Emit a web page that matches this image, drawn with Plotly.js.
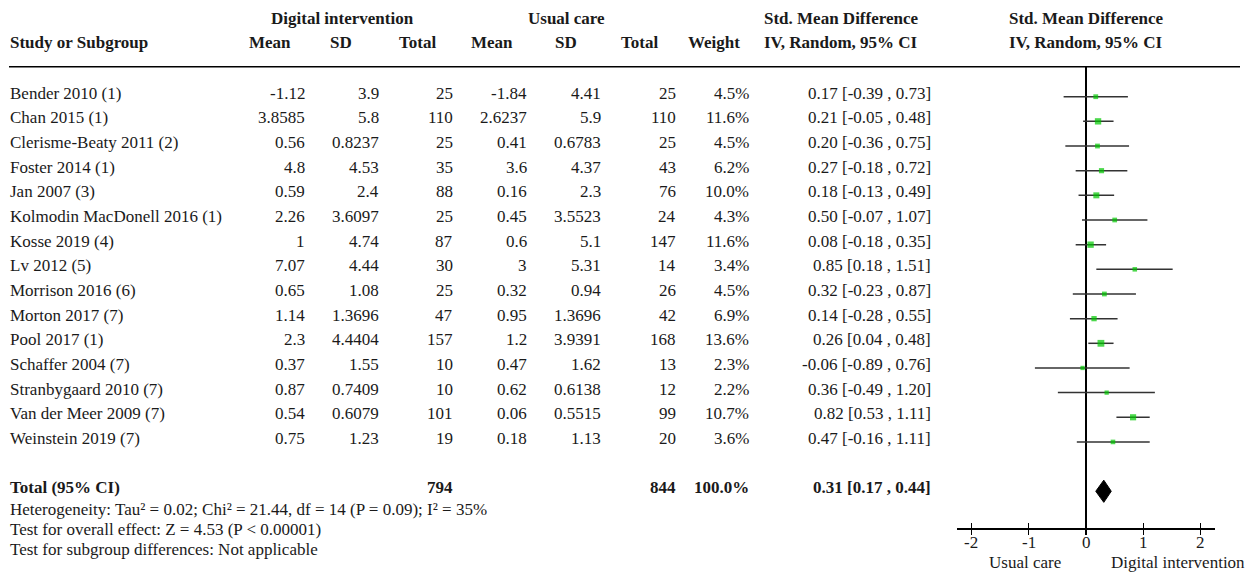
<!DOCTYPE html>
<html>
<head>
<meta charset="utf-8">
<script src="https://cdn.plot.ly/plotly-3.0.1.min.js"></script>
<style>html,body{margin:0;padding:0;background:#fff;}#chart{width:1254px;height:574px;}</style>
</head>
<body>
<div id="chart"></div>
<script>
// ---- data ----
const studies = ["Bender 2010 (1)", "Chan 2015 (1)", "Clerisme-Beaty 2011 (2)", "Foster 2014 (1)", "Jan 2007 (3)",
  "Kolmodin MacDonell 2016 (1)", "Kosse 2019 (4)", "Lv 2012 (5)", "Morrison 2016 (6)", "Morton 2017 (7)",
  "Pool 2017 (1)", "Schaffer 2004 (7)", "Stranbygaard 2010 (7)", "Van der Meer 2009 (7)", "Weinstein 2019 (7)"];
const digMean = [-1.12, 3.8585, 0.56, 4.8, 0.59, 2.26, 1, 7.07, 0.65, 1.14, 2.3, 0.37, 0.87, 0.54, 0.75];
const digSD = [3.9, 5.8, 0.8237, 4.53, 2.4, 3.6097, 4.74, 4.44, 1.08, 1.3696, 4.4404, 1.55, 0.7409, 0.6079, 1.23];
const digN = [25, 110, 25, 35, 88, 25, 87, 30, 25, 47, 157, 10, 10, 101, 19];
const ucMean = [-1.84, 2.6237, 0.41, 3.6, 0.16, 0.45, 0.6, 3, 0.32, 0.95, 1.2, 0.47, 0.62, 0.06, 0.18];
const ucSD = [4.41, 5.9, 0.6783, 4.37, 2.3, 3.5523, 5.1, 5.31, 0.94, 1.3696, 3.9391, 1.62, 0.6138, 0.5515, 1.13];
const ucN = [25, 110, 25, 43, 76, 24, 147, 14, 26, 42, 168, 13, 12, 99, 20];
const weight = [4.5, 11.6, 4.5, 6.2, 10.0, 4.3, 11.6, 3.4, 4.5, 6.9, 13.6, 2.3, 2.2, 10.7, 3.6];
const smd = [0.17, 0.21, 0.20, 0.27, 0.18, 0.50, 0.08, 0.85, 0.32, 0.14, 0.26, -0.06, 0.36, 0.82, 0.47];
const ciLo = [-0.39, -0.05, -0.36, -0.18, -0.13, -0.07, -0.18, 0.18, -0.23, -0.28, 0.04, -0.89, -0.49, 0.53, -0.16];
const ciHi = [0.73, 0.48, 0.75, 0.72, 0.49, 1.07, 0.35, 1.51, 0.87, 0.55, 0.48, 0.76, 1.20, 1.11, 1.11];
const totalLabel = "Total (95% CI)";
const totalDigN = 794;
const totalUcN = 844;
const totalWeight = 100.0;
const totalSmd = 0.31, totalLo = 0.17, totalHi = 0.44;
const tickVals = [-2, -1, 0, 1, 2];
const favourLeft = "Usual care";
const favourRight = "Digital intervention";
const footnotes = [
  "Heterogeneity: Tau² = 0.02; Chi² = 21.44, df = 14 (P = 0.09); I² = 35%",
  "Test for overall effect: Z = 4.53 (P < 0.00001)",
  "Test for subgroup differences: Not applicable"
];

// ---- layout helpers ----
const W = 1254, H = 574;
const FONT = "Liberation Serif, Times New Roman, serif";
const FS = 17;
const TXT = "#1a1a1a";
const px = p => p / W;          // pixel x -> paper
const py = p => 1 - p / H;      // pixel y -> paper
const totalRow = studies.length + 1;
const rows = studies.map((_, i) => i);
const ROW_SHIFT = 3.5;          // row text sits a little above its marker

const ann = [];
function addText(text, x, y, anchor, bold, yref, xref) {
  ann.push({
    text: bold ? "<b>" + text + "</b>" : text,
    x: xref === "x" ? x : px(x), xref: xref || "paper",
    y: y, yref: yref || "y",
    yshift: (yref || "y") === "y" ? ROW_SHIFT : 0,
    xanchor: anchor, yanchor: "middle",
    showarrow: false, borderpad: 0,
    font: {family: FONT, size: FS, color: TXT}
  });
}

// headers
addText("Digital intervention", 342, py(19), "center", true, "paper");
addText("Usual care", 566, py(19), "center", true, "paper");
addText("Std. Mean Difference", 841, py(19), "center", true, "paper");
addText("Std. Mean Difference", 1086, py(19), "center", true, "paper");
addText("Study or Subgroup", 9, py(43), "left", true, "paper");
addText("Mean", 270, py(43), "center", true, "paper");
addText("SD", 341, py(43), "center", true, "paper");
addText("Total", 417, py(43), "center", true, "paper");
addText("Mean", 492, py(43), "center", true, "paper");
addText("SD", 566, py(43), "center", true, "paper");
addText("Total", 639, py(43), "center", true, "paper");
addText("Weight", 714, py(43), "center", true, "paper");
addText("IV, Random, 95% CI", 841, py(43), "center", true, "paper");
addText("IV, Random, 95% CI", 1086, py(43), "center", true, "paper");

const fmtCI = (e, l, h) => e.toFixed(2) + " [" + l.toFixed(2) + " , " + h.toFixed(2) + "]";

studies.forEach((s, i) => {
  addText(s, 9, i, "left", false);
  addText(String(digMean[i]), 306, i, "right", false);
  addText(String(digSD[i]), 380, i, "right", false);
  addText(String(digN[i]), 454, i, "right", false);
  addText(String(ucMean[i]), 528, i, "right", false);
  addText(String(ucSD[i]), 602, i, "right", false);
  addText(String(ucN[i]), 677, i, "right", false);
  addText(weight[i].toFixed(1) + "%", 750, i, "right", false);
  addText(fmtCI(smd[i], ciLo[i], ciHi[i]), 932, i, "right", false);
});

addText(totalLabel, 9, totalRow, "left", true);
addText(String(totalDigN), 454, totalRow, "right", true);
addText(String(totalUcN), 677, totalRow, "right", true);
addText(totalWeight.toFixed(1) + "%", 750, totalRow, "right", true);
addText(fmtCI(totalSmd, totalLo, totalHi), 932, totalRow, "right", true);

footnotes.forEach((f, k) => addText(f, 9, py(509 + 20 * k), "left", false, "paper"));

// tick labels (drawn as annotations on the data x scale)
tickVals.forEach(v => addText(String(v), v, py(542), "center", false, "paper", "x"));

addText(favourLeft, 1025, py(562), "center", false, "paper");
addText(favourRight, 1178, py(562), "center", false, "paper");

// ---- traces ----
const ciTrace = {
  type: "scatter", mode: "markers",
  x: smd, y: rows,
  marker: {symbol: "square", color: "#00c800", size: weight.map(w => 3.8 + 0.22 * w), line: {width: 0}},
  error_x: {
    type: "data", symmetric: false,
    array: ciHi.map((h, i) => h - smd[i]),
    arrayminus: ciLo.map((l, i) => smd[i] - l),
    color: "#333", thickness: 1.5, width: 0
  },
  hoverinfo: "skip", cliponaxis: false
};
const dh = 0.45;
const diamond = {
  type: "scatter", mode: "lines",
  x: [totalLo, totalSmd, totalHi, totalSmd, totalLo],
  y: [totalRow, totalRow - dh, totalRow, totalRow + dh, totalRow],
  fill: "toself", fillcolor: "#000", line: {color: "#000", width: 1},
  hoverinfo: "skip"
};

// y mapping: row i at pixel 96.7 + 24.66*i ; domain from 66.7 px (header rule) to 528 px (axis)
const r0 = 96.7, step = 24.66, topPx = 66.7, botPx = 528;
const yTop = (topPx - r0) / step, yBot = (botPx - r0) / step;
// x mapping: 0 at 1086 px, 57.4 px per unit, axis from 957 to 1215 px
const x0 = 1086, ux = 57.4, axL = 957, axR = 1215;

const layout = {
  width: W, height: H,
  margin: {l: 0, r: 0, t: 0, b: 0, pad: 0},
  paper_bgcolor: "#fff", plot_bgcolor: "rgba(0,0,0,0)",
  showlegend: false, hovermode: false,
  font: {family: FONT, size: FS, color: TXT},
  xaxis: {
    domain: [px(axL), px(axR)],
    range: [(axL - x0) / ux, (axR - x0) / ux],
    showgrid: false, zeroline: true, zerolinecolor: "#000", zerolinewidth: 1.5,
    showline: true, linecolor: "#000", linewidth: 1.5,
    tickvals: tickVals, showticklabels: false,
    ticks: "outside", ticklen: 5, tickwidth: 1.2, tickcolor: "#000",
    fixedrange: true
  },
  xaxis2: {
    overlaying: "x", matches: "x", anchor: "y",
    domain: [px(axL), px(axR)],
    range: [(axL - x0) / ux, (axR - x0) / ux],
    showgrid: false, zeroline: false, showline: false,
    tickvals: tickVals, showticklabels: false,
    ticks: "inside", ticklen: 5, tickwidth: 1.2, tickcolor: "#000"
  },
  yaxis: {
    domain: [py(botPx), py(topPx)],
    range: [yBot, yTop],
    visible: false, showgrid: false, zeroline: false, fixedrange: true
  },
  shapes: [{
    type: "line", xref: "paper", yref: "paper",
    x0: px(9), x1: px(1240), y0: py(topPx), y1: py(topPx),
    line: {color: "#000", width: 1.5}
  }],
  annotations: ann
};

const dummy = {type: "scatter", mode: "markers", x: [0], y: [0], xaxis: "x2", yaxis: "y",
  marker: {opacity: 0}, hoverinfo: "skip"};

Plotly.newPlot("chart", [ciTrace, diamond, dummy], layout, {staticPlot: true, displayModeBar: false});
</script>
</body>
</html>
